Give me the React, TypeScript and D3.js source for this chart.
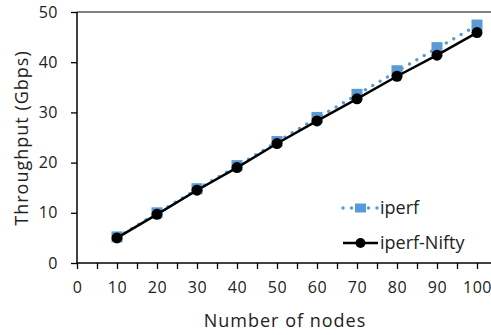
import { axisBottom, axisLeft, line, scaleLinear, select } from 'd3';
import { useEffect, useRef } from 'react';

const nodes = [10, 20, 30, 40, 50, 60, 70, 80, 90, 100];
const iperf = [5.1, 9.9, 14.7, 19.3, 24.1, 28.9, 33.5, 38.2, 42.8, 47.3];
const iperfNifty = [5.0, 9.7, 14.5, 19.0, 23.8, 28.3, 32.7, 37.2, 41.4, 45.9];
const xTicks = [0, 10, 20, 30, 40, 50, 60, 70, 80, 90, 100];
const yTicks = [0, 10, 20, 30, 40, 50];
const seriesNames = ['iperf', 'iperf-Nifty'];

const FONT = '"Open Sans", "Noto Sans", sans-serif';
const BLUE = '#5B9BD5';

export default function App() {
  const width = 491;
  const height = 335;
  const margin = { top: 12, bottom: 72, left: 77, right: 14 };
  const gx = useRef<SVGGElement>(null);
  const gy = useRef<SVGGElement>(null);

  const xScale = scaleLinear()
    .domain([0, 100])
    .range([margin.left, width - margin.right]);
  const yScale = scaleLinear()
    .domain([0, 50])
    .range([height - margin.bottom, margin.top]);

  const lineGen = line<number>()
    .x((_, i) => xScale(nodes[i]))
    .y((d) => yScale(d));

  useEffect(() => {
    const g = select(gx.current);
    g.selectAll('*').remove();
    // minor ticks every 5
    const minor = axisBottom(xScale)
      .tickValues([5, 15, 25, 35, 45, 55, 65, 75, 85, 95])
      .tickSize(6)
      .tickFormat(() => '');
    g.append('g').call(minor);
    const major = axisBottom(xScale)
      .tickValues(xTicks)
      .tickSize(6)
      .tickPadding(13)
      .tickFormat((d) => String(d));
    g.append('g').call(major);
    g.selectAll('.domain').remove();
    g.selectAll('line').attr('stroke', '#000').attr('stroke-width', 1.3);
    g.selectAll('text')
      .attr('font-family', FONT)
      .attr('font-size', 16)
      .attr('letter-spacing', 0.5)
      .attr('fill', '#222');
  }, []);

  useEffect(() => {
    const g = select(gy.current);
    g.selectAll('*').remove();
    g.call(
      axisLeft(yScale)
        .tickValues(yTicks)
        .tickSize(6)
        .tickPadding(13)
        .tickFormat((d) => String(d)),
    );
    g.selectAll('.domain').remove();
    g.selectAll('line').attr('stroke', '#000').attr('stroke-width', 1.3);
    g.selectAll('text')
      .attr('font-family', FONT)
      .attr('font-size', 16)
      .attr('letter-spacing', 0.5)
      .attr('fill', '#222');
  }, []);

  const legendX = 343;
  const legendY = [208, 243];

  return (
    <svg
      width={width}
      height={height}
      style={{ position: 'absolute', left: 0, top: 0, background: '#fff' }}>
      <line
        x1={margin.left}
        x2={width}
        y1={yScale(50)}
        y2={yScale(50)}
        stroke='#595959'
        strokeWidth={1.5}
      />
      <g ref={gy} transform={`translate(${margin.left},0)`}></g>
      <g ref={gx} transform={`translate(0,${yScale(0)})`}></g>
      <line
        x1={margin.left}
        x2={margin.left}
        y1={yScale(50)}
        y2={yScale(0)}
        stroke='#000'
        strokeWidth={1.5}
      />
      <line
        x1={margin.left}
        x2={width}
        y1={yScale(0)}
        y2={yScale(0)}
        stroke='#000'
        strokeWidth={1.5}
      />

      {/* iperf series */}
      <path
        d={lineGen(iperf) ?? ''}
        fill='none'
        stroke={BLUE}
        strokeWidth={3.5}
        strokeLinecap='round'
        strokeDasharray='0 8.5'
      />
      {iperf.map((v, i) => (
        <rect
          key={'s' + i}
          x={xScale(nodes[i]) - 5.5}
          y={yScale(v) - 6}
          width={11}
          height={11}
          fill={BLUE}
        />
      ))}

      {/* iperf-Nifty series */}
      <path
        d={lineGen(iperfNifty) ?? ''}
        fill='none'
        stroke='#000'
        strokeWidth={2.5}
      />
      {iperfNifty.map((v, i) => (
        <circle
          key={'c' + i}
          cx={xScale(nodes[i])}
          cy={yScale(v)}
          r={5.5}
          fill='#000'
        />
      ))}

      {/* legend */}
      <g>
        <line
          x1={legendX}
          x2={legendX + 35}
          y1={legendY[0]}
          y2={legendY[0]}
          stroke={BLUE}
          strokeWidth={3.5}
          strokeLinecap='round'
          strokeDasharray='0 8.5'
        />
        <rect
          x={legendX + 12}
          y={legendY[0] - 4.5}
          width={11}
          height={9}
          fill={BLUE}
        />
        <text
          x={legendX + 37}
          y={legendY[0]}
          dy='0.35em'
          fontFamily={FONT}
          fontSize={18}
          fill='#222'>
          {seriesNames[0]}
        </text>
        <line
          x1={legendX}
          x2={legendX + 35}
          y1={legendY[1]}
          y2={legendY[1]}
          stroke='#000'
          strokeWidth={2.5}
        />
        <circle cx={legendX + 17.5} cy={legendY[1]} r={5} fill='#000' />
        <text
          x={legendX + 37}
          y={legendY[1]}
          dy='0.35em'
          fontFamily={FONT}
          fontSize={18}
          fill='#222'>
          {seriesNames[1]}
        </text>
      </g>

      {/* axis titles */}
      <text
        x={285}
        y={327}
        textAnchor='middle'
        fontFamily={FONT}
        fontSize={18}
        letterSpacing={1}
        fill='#222'>
        Number of nodes
      </text>
      <text
        transform={`translate(28,138) rotate(-90)`}
        textAnchor='middle'
        fontFamily={FONT}
        fontSize={18}
        letterSpacing={1}
        fill='#222'>
        Throughput  (Gbps)
      </text>
    </svg>
  );
}
